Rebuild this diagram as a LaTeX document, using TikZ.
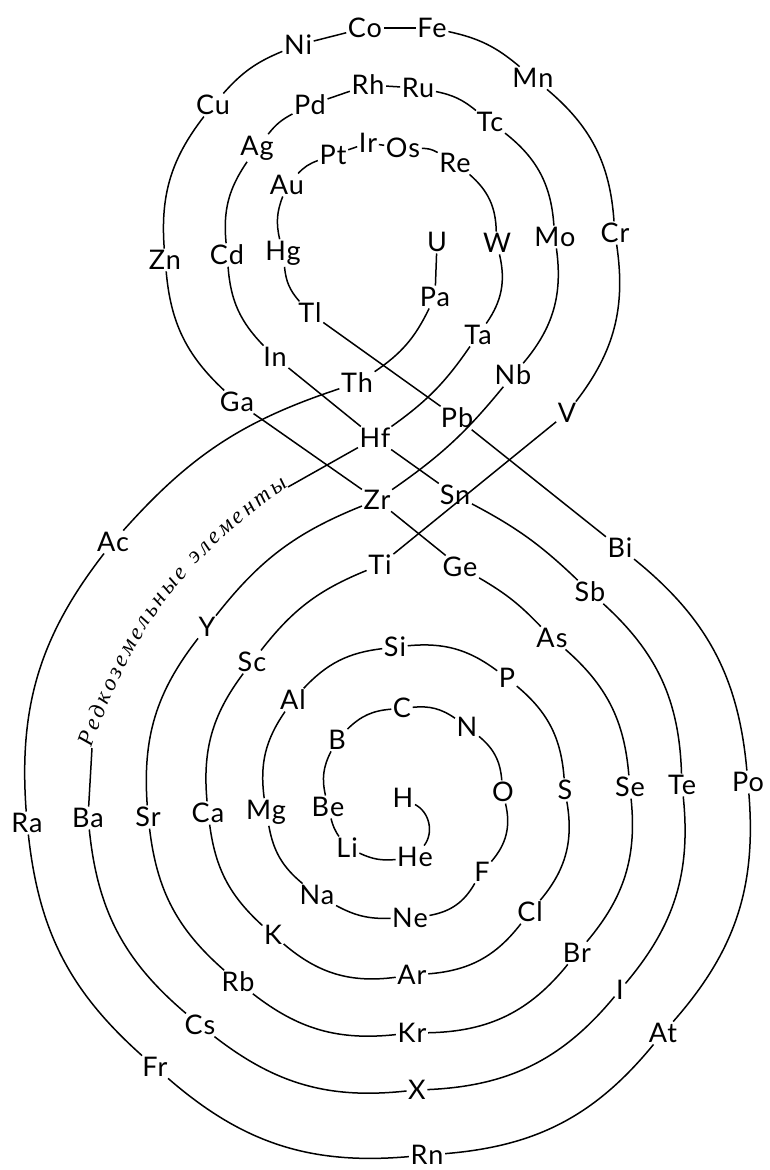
\documentclass[tikz,border=0pt]{standalone}
\usepackage{fontspec}
\usetikzlibrary{decorations.text}
\newfontfamily\elfont{Lato}[LetterSpace=4]
\newfontfamily\refont{Liberation Serif}
\tikzset{
  el/.style={font=\elfont\fontsize{27}{29}\selectfont, inner sep=1.5pt},
  ln/.style={line width=1.5pt},
}
\newcommand\elm[3]{\node[el] (#1) at (#2,-#3) {#1};}
\begin{document}
\begin{tikzpicture}[x=1pt,y=1pt]
\fill[white] (0,0) rectangle (770,-1170);
\useasboundingbox (0,0) rectangle (770,-1170);
% elements
\elm{H}{403}{798}
\elm{He}{415}{857}
\elm{Li}{347}{848}
\elm{Be}{328}{807}
\elm{B}{337}{740}
\elm{C}{402}{708}
\elm{N}{467}{727}
\elm{O}{503}{792}
\elm{F}{482}{872}
\elm{Ne}{410}{918}
\elm{Na}{317}{895}
\elm{Mg}{266}{812}
\elm{Al}{293}{700}
\elm{Si}{395}{647}
\elm{P}{507}{678}
\elm{S}{565}{790}
\elm{Cl}{530}{912}
\elm{Ar}{412}{975}
\elm{K}{273}{935}
\elm{Ca}{208}{813}
\elm{Sc}{252}{662}
\elm{Ti}{380}{565}
\elm{V}{567}{413}
\elm{Cr}{615}{233}
\elm{Mn}{533}{78}
\elm{Fe}{432}{28}
\elm{Co}{365}{28}
\elm{Ni}{298}{45}
\elm{Cu}{213}{105}
\elm{Zn}{165}{260}
\elm{Ga}{237}{402}
\elm{Ge}{460}{567}
\elm{As}{552}{638}
\elm{Se}{630}{787}
\elm{Br}{577}{953}
\elm{Kr}{412}{1033}
\elm{Rb}{238}{982}
\elm{Sr}{148}{817}
\elm{Y}{207}{627}
\elm{Zr}{377}{500}
\elm{Nb}{513}{375}
\elm{Mo}{555}{237}
\elm{Tc}{490}{122}
\elm{Ru}{418}{88}
\elm{Rh}{368}{85}
\elm{Pd}{310}{105}
\elm{Ag}{257}{148}
\elm{Cd}{227}{255}
\elm{In}{275}{357}
\elm{Sn}{455}{495}
\elm{Sb}{590}{592}
\elm{Te}{682}{785}
\elm{I}{620}{990}
\elm{X}{417}{1090}
\elm{Cs}{200}{1025}
\elm{Ba}{88}{818}
\elm{Hf}{375}{438}
\elm{Ta}{478}{335}
\elm{W}{497}{243}
\elm{Re}{455}{163}
\elm{Os}{403}{148}
\elm{Ir}{368}{143}
\elm{Pt}{333}{155}
\elm{Au}{287}{185}
\elm{Hg}{283}{253}
\elm{Tl}{310}{313}
\elm{Pb}{457}{418}
\elm{Bi}{620}{548}
\elm{Po}{748}{782}
\elm{At}{663}{1033}
\elm{Rn}{427}{1155}
\elm{Fr}{155}{1067}
\elm{Ra}{27}{823}
\elm{Ac}{113}{542}
\elm{Th}{357}{383}
\elm{Pa}{435}{297}
\elm{U}{437}{242}
\coordinate (REa) at (92,-748);
\coordinate (REb) at (288,-487);
% connectors: lower spiral (clockwise) and upper loop (counterclockwise)
\draw[ln] (H) to[bend left=50] (He);
\draw[ln] (He) to[bend left=15] (Li);
\draw[ln] (Li) to[bend left=10] (Be);
\draw[ln] (Be) to[bend left=20] (B);
\draw[ln] (B) to[bend left=20] (C);
\draw[ln] (C) to[bend left=20] (N);
\draw[ln] (N) to[bend left=23] (O);
\draw[ln] (O) to[bend left=27] (F);
\draw[ln] (F) to[bend left=25] (Ne);
\draw[ln] (Ne) to[bend left=15] (Na);
\draw[ln] (Na) to[bend left=20] (Mg);
\draw[ln] (Mg) to[bend left=21] (Al);
\draw[ln] (Al) to[bend left=20] (Si);
\draw[ln] (Si) to[bend left=21] (P);
\draw[ln] (P) to[bend left=23] (S);
\draw[ln] (S) to[bend left=25] (Cl);
\draw[ln] (Cl) to[bend left=24] (Ar);
\draw[ln] (Ar) to[bend left=24] (K);
\draw[ln] (K) to[bend left=20] (Ca);
\draw[ln] (Ca) to[bend left=21] (Sc);
\draw[ln] (Sc) to[bend left=15] (Ti);
\draw[ln] (Ti) -- (V);
\draw[ln] (V) to[bend right=23] (Cr);
\draw[ln] (Cr) to[bend right=23] (Mn);
\draw[ln] (Mn) to[bend right=14] (Fe);
\draw[ln] (Fe) -- (Co);
\draw[ln] (Co) -- (Ni);
\draw[ln] (Ni) to[bend right=13] (Cu);
\draw[ln] (Cu) to[bend right=21] (Zn);
\draw[ln] (Zn) to[bend right=21] (Ga);
\draw[ln] (Ga) -- (Zr);
\draw[ln] (Zr) -- (Ge);
\draw[ln] (Ge) to[bend left=8] (As);
\draw[ln] (As) to[bend left=22] (Se);
\draw[ln] (Se) to[bend left=23] (Br);
\draw[ln] (Br) to[bend left=25] (Kr);
\draw[ln] (Kr) to[bend left=22] (Rb);
\draw[ln] (Rb) to[bend left=21] (Sr);
\draw[ln] (Sr) to[bend left=21] (Y);
\draw[ln] (Y) to[bend left=15] (Zr);
\draw[ln] (Zr) to[bend right=8] (Nb);
\draw[ln] (Nb) to[bend right=24] (Mo);
\draw[ln] (Mo) to[bend right=24] (Tc);
\draw[ln] (Tc) to[bend right=14] (Ru);
\draw[ln] (Ru) -- (Rh);
\draw[ln] (Rh) -- (Pd);
\draw[ln] (Pd) to[bend right=12] (Ag);
\draw[ln] (Ag) to[bend right=20] (Cd);
\draw[ln] (Cd) to[bend right=20] (In);
\draw[ln] (In) -- (Hf);
\draw[ln] (Hf) -- (Sn);
\draw[ln] (Sn) to[bend left=8] (Sb);
\draw[ln] (Sb) to[bend left=23] (Te);
\draw[ln] (Te) to[bend left=23] (I);
\draw[ln] (I) to[bend left=24] (X);
\draw[ln] (X) to[bend left=22] (Cs);
\draw[ln] (Cs) to[bend left=22] (Ba);
\draw[ln] (Ba) -- (REa);
\path[decorate, decoration={text along path, text align=fit to path,
  text={|\refont\itshape\fontsize{23}{25}\selectfont|Редкоземельные элементы}}]
  (REa) to[bend left=18] (REb);
\draw[ln] (REb) -- (Hf);
\draw[ln] (Hf) to[bend right=10] (Ta);
\draw[ln] (Ta) to[bend right=24] (W);
\draw[ln] (W) to[bend right=24] (Re);
\draw[ln] (Re) to[bend right=15] (Os);
\draw[ln] (Os) -- (Ir);
\draw[ln] (Ir) -- (Pt);
\draw[ln] (Pt) to[bend right=13] (Au);
\draw[ln] (Au) to[bend right=17] (Hg);
\draw[ln] (Hg) to[bend right=18] (Tl);
\draw[ln] (Tl) -- (Pb);
\draw[ln] (Pb) -- (Bi);
\draw[ln] (Bi) to[bend left=23] (Po);
\draw[ln] (Po) to[bend left=23] (At);
\draw[ln] (At) to[bend left=23] (Rn);
\draw[ln] (Rn) to[bend left=23] (Fr);
\draw[ln] (Fr) to[bend left=21] (Ra);
\draw[ln] (Ra) to[bend left=21] (Ac);
\draw[ln] (Ac) to[bend left=15] (Th);
\draw[ln] (Th) to[bend right=15] (Pa);
\draw[ln] (Pa) -- (U);
\end{tikzpicture}
\end{document}
